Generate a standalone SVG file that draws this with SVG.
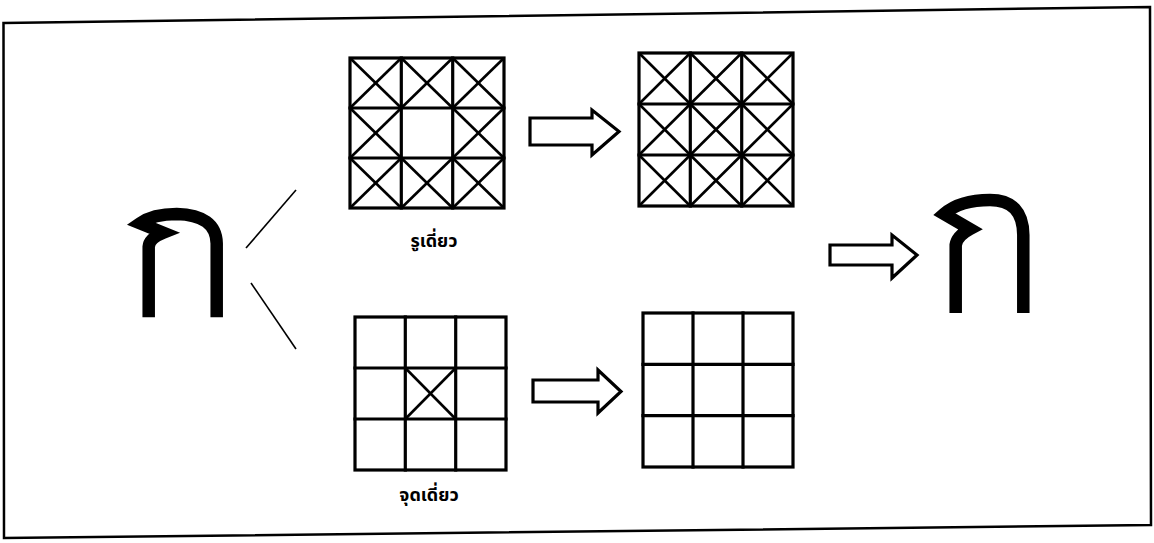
<svg xmlns="http://www.w3.org/2000/svg" width="1154" height="543" viewBox="0 0 1154 543">
<style>
.frame{fill:none;stroke:#000;stroke-width:2.5}
.grid{fill:none;stroke:#000;stroke-width:3.2;stroke-linecap:square}
.diag{stroke:#000;stroke-width:2.6}
.conn{stroke:#000;stroke-width:1.6;fill:none}
.arrow{fill:#fff;stroke:#000;stroke-width:3.2;stroke-linejoin:miter}
.char{fill:none;stroke:#000;stroke-width:12.5;stroke-linejoin:miter;stroke-miterlimit:6}
.label{font-family:"Noto Sans Thai","Noto Sans","DejaVu Sans",sans-serif;font-weight:bold;font-size:18px;fill:#000;text-anchor:middle}
</style>
<defs>
<g id="xcell"><line class="diag" x1="0" y1="0" x2="51" y2="50"/><line class="diag" x1="51" y1="0" x2="0" y2="50"/></g>
</defs>
<rect width="1154" height="543" fill="#fff"/>
<polygon class="frame" points="3.5,23 1150,7 1151,525 4,538"/>

<g id="char-left">
<path class="char" d="M148.7,317.3 L148.7,246.7 Q149.3,238.3 163.3,232.7 L140,223.3 Q153.3,214 176.7,214 Q216,215 216.7,243.3 L216.7,317.3"/>
</g>

<g id="connectors">
<line class="conn" x1="246" y1="248" x2="296" y2="190"/>
<line class="conn" x1="251" y1="283" x2="296" y2="349"/>
</g>

<g id="grid-top-left">
<rect class="grid" x="350" y="58" width="154" height="150"/>
<line class="grid" x1="401.3" y1="58" x2="401.3" y2="208"/>
<line class="grid" x1="452.7" y1="58" x2="452.7" y2="208"/>
<line class="grid" x1="350" y1="108" x2="504" y2="108"/>
<line class="grid" x1="350" y1="158" x2="504" y2="158"/>
<g transform="translate(350,58) scale(1.006,1)"><use href="#xcell"/></g>
<g transform="translate(401.3,58) scale(1.006,1)"><use href="#xcell"/></g>
<g transform="translate(452.7,58) scale(1.006,1)"><use href="#xcell"/></g>
<g transform="translate(350,108) scale(1.006,1)"><use href="#xcell"/></g>
<g transform="translate(452.7,108) scale(1.006,1)"><use href="#xcell"/></g>
<g transform="translate(350,158) scale(1.006,1)"><use href="#xcell"/></g>
<g transform="translate(401.3,158) scale(1.006,1)"><use href="#xcell"/></g>
<g transform="translate(452.7,158) scale(1.006,1)"><use href="#xcell"/></g>
<text class="label" x="434" y="247">รูเดี่ยว</text>
</g>

<g id="arrow-top">
<polygon class="arrow" points="530,118 592,118 592,110 619,131.5 592,155 592,145 530,145"/>
</g>

<g id="grid-top-right">
<rect class="grid" x="639" y="53" width="154" height="153"/>
<line class="grid" x1="690.3" y1="53" x2="690.3" y2="206"/>
<line class="grid" x1="741.7" y1="53" x2="741.7" y2="206"/>
<line class="grid" x1="639" y1="104" x2="793" y2="104"/>
<line class="grid" x1="639" y1="155" x2="793" y2="155"/>
<g transform="translate(639,53) scale(1.006,1.02)"><use href="#xcell"/></g>
<g transform="translate(690.3,53) scale(1.006,1.02)"><use href="#xcell"/></g>
<g transform="translate(741.7,53) scale(1.006,1.02)"><use href="#xcell"/></g>
<g transform="translate(639,104) scale(1.006,1.02)"><use href="#xcell"/></g>
<g transform="translate(690.3,104) scale(1.006,1.02)"><use href="#xcell"/></g>
<g transform="translate(741.7,104) scale(1.006,1.02)"><use href="#xcell"/></g>
<g transform="translate(639,155) scale(1.006,1.02)"><use href="#xcell"/></g>
<g transform="translate(690.3,155) scale(1.006,1.02)"><use href="#xcell"/></g>
<g transform="translate(741.7,155) scale(1.006,1.02)"><use href="#xcell"/></g>
</g>

<g id="grid-bottom-left">
<rect class="grid" x="355" y="317" width="151" height="153"/>
<line class="grid" x1="405.3" y1="317" x2="405.3" y2="470"/>
<line class="grid" x1="455.7" y1="317" x2="455.7" y2="470"/>
<line class="grid" x1="355" y1="368" x2="506" y2="368"/>
<line class="grid" x1="355" y1="419" x2="506" y2="419"/>
<line class="diag" x1="405.3" y1="368" x2="455.7" y2="419"/>
<line class="diag" x1="455.7" y1="368" x2="405.3" y2="419"/>
<text class="label" x="429" y="501">จุดเดี่ยว</text>
</g>

<g id="arrow-bottom">
<polygon class="arrow" points="533,380 598,380 598,370 621,391.5 598,413 598,402 533,402"/>
</g>

<g id="grid-bottom-right">
<rect class="grid" x="643" y="313" width="150" height="154"/>
<line class="grid" x1="693" y1="313" x2="693" y2="467"/>
<line class="grid" x1="743" y1="313" x2="743" y2="467"/>
<line class="grid" x1="643" y1="364.3" x2="793" y2="364.3"/>
<line class="grid" x1="643" y1="415.7" x2="793" y2="415.7"/>
</g>

<g id="arrow-right">
<polygon class="arrow" points="830,245 892,245 892,235 917,255 892,278 892,265 830,265"/>
</g>

<g id="char-right">
<path class="char" d="M955.7,313 L955.7,245 Q957,236 970,229 L944,214 Q960,200 990,200 Q1023,200 1023.3,235 L1023.3,313"/>
</g>
</svg>
